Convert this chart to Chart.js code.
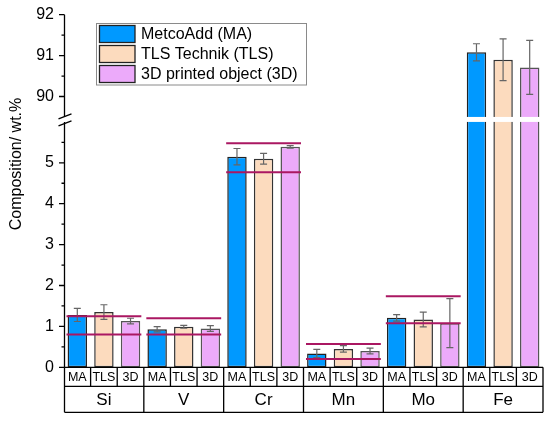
<!DOCTYPE html>
<html>
<head>
<meta charset="utf-8">
<style>
  html, body { margin: 0; padding: 0; background: #fff; }
  #wrap { width: 550px; height: 421px; position: relative; }
</style>
<script src="https://cdn.jsdelivr.net/npm/chart.js@4.4.1/dist/chart.umd.min.js"></script>
</head>
<body>
<div id="wrap"><canvas id="c" width="550" height="421"></canvas></div>
<script>
// ---------- data ----------
const ELEMENTS = ['Si', 'V', 'Cr', 'Mn', 'Mo', 'Fe'];
const SUB_LABELS = ['MA', 'TLS', '3D'];
const SERIES_NAMES = ['MetcoAdd (MA)', 'TLS Technik (TLS)', '3D printed object (3D)'];
const MA_VALUES  = [1.28, 0.93, 5.15, 0.34, 1.21, 91.08];
const MA_ERR     = [0.16, 0.065, 0.20, 0.10, 0.08, 0.21];
const TLS_VALUES = [1.35, 0.99, 5.10, 0.45, 1.17, 90.90];
const TLS_ERR    = [0.18, 0.035, 0.13, 0.08, 0.18, 0.51];
const D3_VALUES  = [1.13, 0.95, 5.39, 0.40, 1.08, 90.71];
const D3_ERR     = [0.07, 0.07, 0.03, 0.07, 0.60, 0.66];
const SPEC_LOW   = [0.80, 0.80, 4.77, 0.20, 1.08, null];
const SPEC_HIGH  = [1.25, 1.20, 5.48, 0.57, 1.74, null];
const Y_TICKS = [0, 1, 2, 3, 4, 5, 90, 91, 92];
const Y_MINOR = [0.5, 1.5, 2.5, 3.5, 4.5, 5.5, 90.5, 91.5];
const Y_TITLE = 'Composition/ wt.%';

// ---------- broken axis definition ----------
const LOW_MAX = 6, HIGH_MIN = 89.5, HIGH_MAX = 92, GAP = 0.122;
function toMapped(v) {
  if (v <= LOW_MAX) return v;
  if (v >= HIGH_MIN) return LOW_MAX + GAP + (v - HIGH_MIN);
  return LOW_MAX + GAP * (v - LOW_MAX) / (HIGH_MIN - LOW_MAX);
}
function fromMapped(m) {
  if (m <= LOW_MAX) return m;
  if (m >= LOW_MAX + GAP) return HIGH_MIN + (m - LOW_MAX - GAP);
  return LOW_MAX + (m - LOW_MAX) / GAP * (HIGH_MIN - LOW_MAX);
}
const MAPPED_MAX = toMapped(HIGH_MAX);

const LinearScale = Chart.LinearScale || Chart.registry.getScale('linear');
class BrokenScale extends LinearScale {
  determineDataLimits() { this.min = 0; this.max = HIGH_MAX; }
  buildTicks() { return Y_TICKS.map(v => ({ value: v })); }
  getPixelForValue(v) { return this.getPixelForDecimal(toMapped(v) / MAPPED_MAX); }
  getValueForPixel(p) { return fromMapped(this.getDecimalForPixel(p) * MAPPED_MAX); }
}
BrokenScale.id = 'broken';
BrokenScale.defaults = LinearScale.defaults;
Chart.register(BrokenScale);

// ---------- build chart structures ----------
const FONT = "'Liberation Sans', Arial, Helvetica, sans-serif";
const COLORS = ['#0099FF', '#FCDBBE', '#ECAAFA'];
const BORDERS = ['#222222', '#333333', '#555555'];
const VALUES = [MA_VALUES, TLS_VALUES, D3_VALUES];
const ERRORS = [MA_ERR, TLS_ERR, D3_ERR];

const labels = [];
ELEMENTS.forEach(() => SUB_LABELS.forEach(s => labels.push(s)));

const datasets = VALUES.map((vals, k) => {
  const data = labels.map(() => null);
  vals.forEach((v, g) => { data[g * SUB_LABELS.length + k] = v; });
  const err = labels.map(() => null);
  ERRORS[k].forEach((e, g) => { err[g * SUB_LABELS.length + k] = e; });
  return {
    label: SERIES_NAMES[k],
    data, err,
    backgroundColor: COLORS[k],
    borderColor: BORDERS[k],
    borderWidth: 1.5,
    borderSkipped: false,
    grouped: false,
    barPercentage: 0.73,
    categoryPercentage: 1.0
  };
});

// ---------- plugins ----------
const decor = {
  id: 'decor',
  afterDatasetsDraw(chart) {
    const ctx = chart.ctx;
    const x = chart.scales.x, y = chart.scales.y;
    const ca = chart.chartArea;
    const n = SUB_LABELS.length;
    const half = (x.getPixelForValue(1) - x.getPixelForValue(0)) / 2;

    // error bars
    ctx.save();
    ctx.strokeStyle = '#666';
    ctx.lineWidth = 1.2;
    chart.data.datasets.forEach((ds, di) => {
      const meta = chart.getDatasetMeta(di);
      ds.data.forEach((v, i) => {
        if (v === null) return;
        const e = ds.err[i];
        const px = meta.data[i].x;
        const yt = y.getPixelForValue(v + e), yb = y.getPixelForValue(v - e);
        ctx.beginPath();
        ctx.moveTo(px, yt); ctx.lineTo(px, yb);
        ctx.moveTo(px - 3.5, yt); ctx.lineTo(px + 3.5, yt);
        ctx.moveTo(px - 3.5, yb); ctx.lineTo(px + 3.5, yb);
        ctx.stroke();
      });
    });
    ctx.restore();

    // specification lines
    ctx.save();
    ctx.strokeStyle = '#AA1762';
    ctx.lineWidth = 2;
    ELEMENTS.forEach((el, g) => {
      const x0 = x.getPixelForValue(g * n) - half + 2.5;
      const x1 = x.getPixelForValue(g * n + n - 1) + half - 2.5;
      [SPEC_LOW[g], SPEC_HIGH[g]].forEach(v => {
        if (v === null) return;
        const py = y.getPixelForValue(v);
        ctx.beginPath(); ctx.moveTo(x0, py); ctx.lineTo(x1, py); ctx.stroke();
      });
    });
    ctx.restore();

    // break band
    const yTopBreak = y.getPixelForValue(HIGH_MIN);
    const yBotBreak = y.getPixelForValue(LOW_MAX);
    ctx.save();
    ctx.fillStyle = '#fff';
    ctx.fillRect(ca.left - 1, yTopBreak, ca.right - ca.left + 2, yBotBreak - yTopBreak);
    ctx.restore();
  },
  afterDraw(chart) {
    const ctx = chart.ctx;
    const x = chart.scales.x, y = chart.scales.y;
    const ca = chart.chartArea;
    const n = SUB_LABELS.length;
    const half = (x.getPixelForValue(1) - x.getPixelForValue(0)) / 2;
    const L = Math.round(ca.left) + 0.5;

    ctx.save();
    ctx.strokeStyle = '#000';
    ctx.lineWidth = 1.3;
    // y axis line with break
    const yTopBreak = y.getPixelForValue(HIGH_MIN);
    const yBotBreak = y.getPixelForValue(LOW_MAX);
    ctx.beginPath();
    ctx.moveTo(L, y.getPixelForValue(HIGH_MAX)); ctx.lineTo(L, yTopBreak);
    ctx.moveTo(L, yBotBreak); ctx.lineTo(L, y.getPixelForValue(0));
    ctx.stroke();
    // break marks
    ctx.beginPath();
    ctx.moveTo(L - 6, yTopBreak + 2); ctx.lineTo(L + 7, yTopBreak - 3);
    ctx.moveTo(L - 6, yBotBreak + 4); ctx.lineTo(L + 7, yBotBreak - 1);
    ctx.stroke();
    // ticks
    ctx.beginPath();
    Y_TICKS.forEach(v => { const py = y.getPixelForValue(v); ctx.moveTo(L - 5.5, py); ctx.lineTo(L, py); });
    Y_MINOR.forEach(v => { const py = y.getPixelForValue(v); ctx.moveTo(L - 3, py); ctx.lineTo(L, py); });
    ctx.stroke();

    // category table
    const top = y.getPixelForValue(0);
    const row1 = top + 19;
    const row2 = top + 45;
    const R = x.getPixelForValue(labels.length - 1) + half;
    ctx.beginPath();
    ctx.moveTo(L, top); ctx.lineTo(R, top);
    ctx.moveTo(L, row1); ctx.lineTo(R, row1);
    ctx.moveTo(L, row2); ctx.lineTo(R, row2);
    for (let i = 0; i <= labels.length; i++) {
      const px = i === 0 ? L : (i === labels.length ? R : x.getPixelForValue(i) - half);
      ctx.moveTo(px, top); ctx.lineTo(px, (i % n === 0) ? row2 : row1);
    }
    ctx.stroke();

    ctx.fillStyle = '#000';
    ctx.textAlign = 'center';
    ctx.textBaseline = 'middle';
    ctx.font = '12.5px ' + FONT;
    labels.forEach((lab, i) => ctx.fillText(lab, x.getPixelForValue(i), (top + row1) / 2 + 0.5));
    ctx.font = '17px ' + FONT;
    ELEMENTS.forEach((el, g) => {
      const cx = (x.getPixelForValue(g * n) + x.getPixelForValue(g * n + n - 1)) / 2;
      ctx.fillText(el, cx, (row1 + row2) / 2 + 1);
    });

    // y axis title
    ctx.save();
    ctx.translate(17, 164);
    ctx.rotate(-Math.PI / 2);
    ctx.font = '16px ' + FONT;
    ctx.fillText(Y_TITLE, 0, 0);
    ctx.restore();

    // legend
    const lx = 96.5, ly = 23.5, lw = 210, lh = 61.5;
    ctx.fillStyle = '#fff';
    ctx.fillRect(lx, ly, lw, lh);
    ctx.strokeStyle = '#8a8a8a';
    ctx.lineWidth = 1;
    ctx.strokeRect(lx, ly, lw, lh);
    chart.data.datasets.forEach((ds, k) => {
      const sy = 25.5 + k * 20;
      ctx.fillStyle = ds.backgroundColor;
      ctx.fillRect(99.5, sy, 35.5, 17);
      ctx.strokeStyle = '#222';
      ctx.lineWidth = 1.3;
      ctx.strokeRect(99.5, sy, 35.5, 17);
      ctx.fillStyle = '#000';
      ctx.textAlign = 'left';
      ctx.font = '16px ' + FONT;
      ctx.fillText(ds.label, 141, sy + 9);
    });
    ctx.restore();
  }
};

new Chart(document.getElementById('c'), {
  type: 'bar',
  data: { labels, datasets },
  options: {
    responsive: false,
    animation: false,
    devicePixelRatio: 1,
    layout: { padding: { left: 0, right: 7, top: 14.7, bottom: 53.7 } },
    plugins: { legend: { display: false }, tooltip: { enabled: false } },
    scales: {
      x: { type: 'category', display: false, offset: true },
      y: {
        type: 'broken',
        position: 'left',
        grid: { display: false, drawTicks: false },
        border: { display: false },
        ticks: {
          autoSkip: false,
          padding: 10,
          color: '#000',
          font: { family: FONT, size: 16 },
          callback: v => String(v)
        },
        afterFit: s => { s.width = 64; s.paddingTop = 0; s.paddingBottom = 0; }
      }
    }
  },
  plugins: [decor]
});
</script>
</body>
</html>
